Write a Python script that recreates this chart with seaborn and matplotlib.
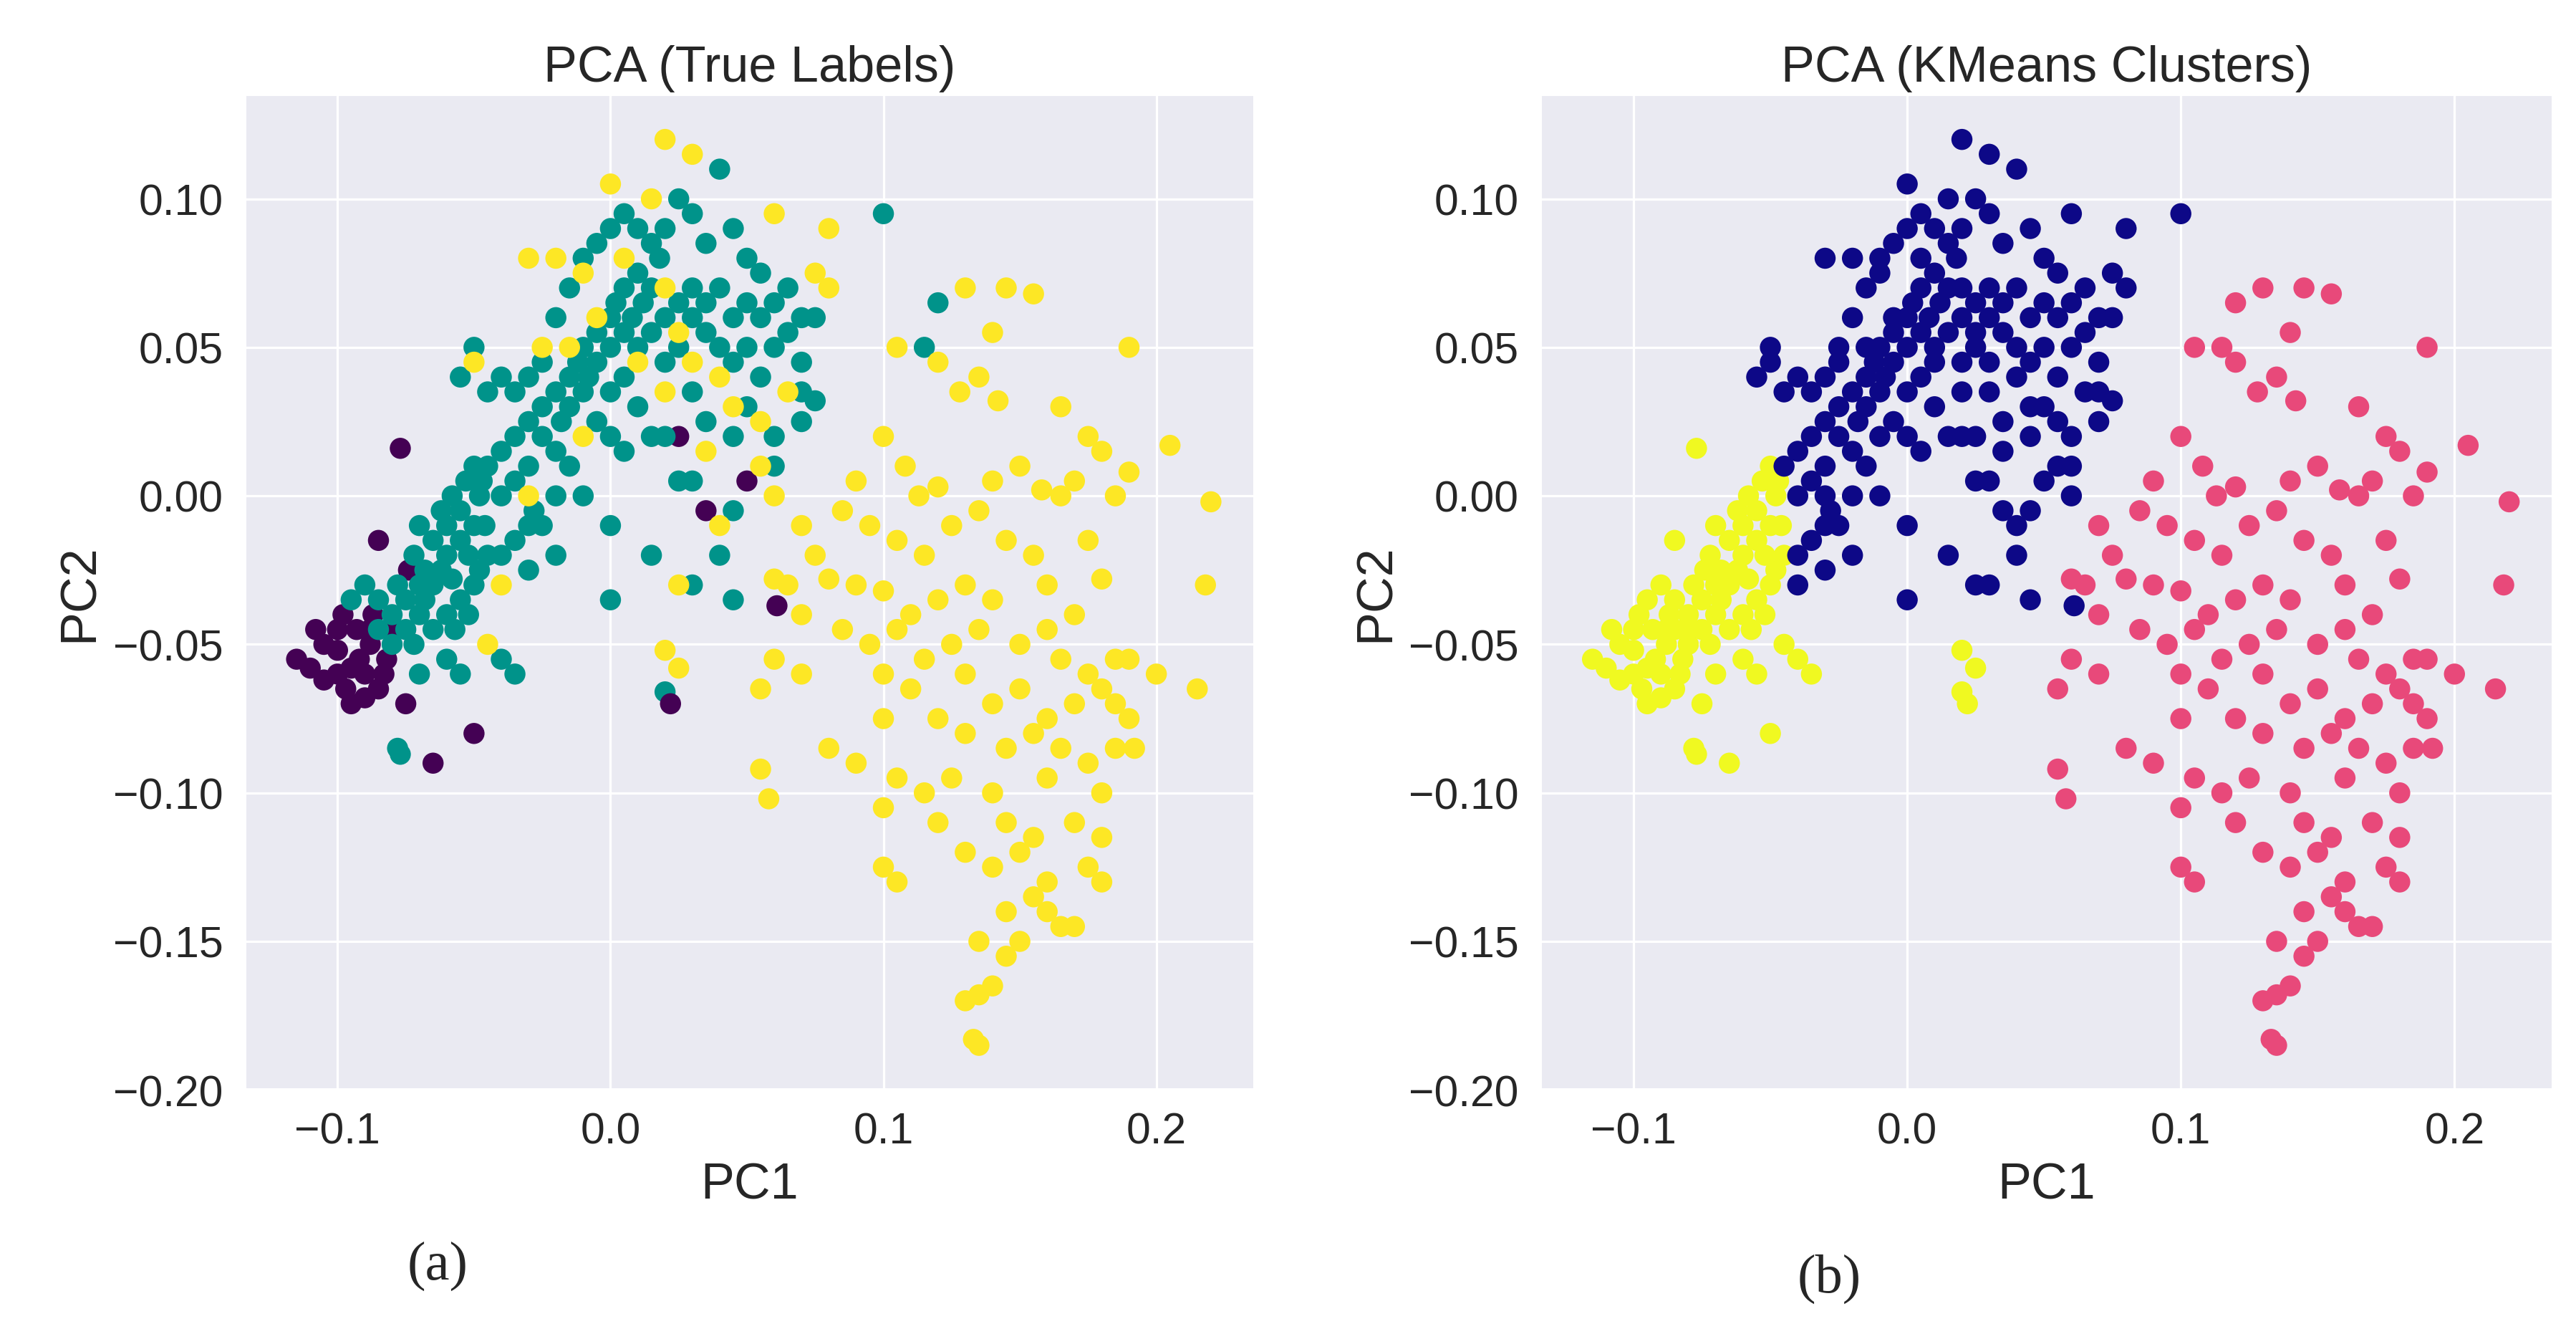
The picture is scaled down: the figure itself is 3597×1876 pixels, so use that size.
import matplotlib
matplotlib.use("Agg")
import matplotlib.pyplot as plt
import seaborn as sns
import pandas as pd

# (pc1, pc2, true_label, kmeans_label)
left_cluster = [
(-0.115,-0.055,0,2),(-0.11,-0.058,0,2),(-0.105,-0.05,0,2),(-0.1,-0.045,0,2),(-0.1,-0.06,0,2),(-0.097,-0.065,0,2),
(-0.095,-0.07,0,2),(-0.092,-0.055,0,2),(-0.09,-0.06,0,2),(-0.088,-0.05,0,2),(-0.105,-0.062,0,2),(-0.098,-0.04,0,2),
(-0.093,-0.045,0,2),(-0.085,-0.065,0,2),(-0.087,-0.04,0,2),(-0.082,-0.055,0,2),(-0.08,-0.045,0,2),(-0.09,-0.068,0,2),
(-0.1,-0.052,0,2),(-0.108,-0.045,0,2),(-0.083,-0.06,0,2),(-0.075,-0.07,0,2),(-0.065,-0.09,0,2),(-0.05,-0.08,0,2),
(-0.085,-0.015,0,2),(-0.074,-0.025,0,2),(-0.077,0.016,0,2),(-0.095,-0.058,0,2),(-0.088,-0.045,0,2),
(-0.095,-0.035,1,2),(-0.09,-0.03,1,2),(-0.085,-0.035,1,2),(-0.08,-0.04,1,2),(-0.078,-0.03,1,2),(-0.075,-0.035,1,2),
(-0.07,-0.03,1,2),(-0.072,-0.02,1,2),(-0.068,-0.025,1,2),(-0.065,-0.03,1,2),(-0.065,-0.015,1,2),(-0.06,-0.02,1,2),
(-0.06,-0.01,1,2),(-0.058,-0.028,1,2),(-0.055,-0.015,1,2),(-0.055,-0.005,1,2),(-0.052,-0.02,1,2),(-0.05,-0.01,1,2),
(-0.048,0.0,1,2),(-0.048,-0.025,1,2),(-0.053,0.005,1,2),(-0.058,0.0,1,2),(-0.062,-0.005,1,2),(-0.07,-0.01,1,2),
(-0.075,-0.045,1,2),(-0.08,-0.05,1,2),(-0.085,-0.045,1,2),(-0.078,-0.085,1,2),(-0.077,-0.087,1,2),(-0.07,-0.06,1,2),
(-0.06,-0.055,1,2),(-0.055,-0.06,1,2),(-0.07,-0.04,1,2),(-0.065,-0.045,1,2),(-0.06,-0.04,1,2),(-0.055,-0.035,1,2),
(-0.05,-0.03,1,2),(-0.045,-0.02,1,2),(-0.046,-0.01,1,2),(-0.047,0.005,1,2),(-0.05,0.01,1,2),(-0.04,-0.055,1,2),
(-0.035,-0.06,1,2),(-0.045,-0.05,2,2),(0.02,-0.052,2,2),(0.025,-0.058,2,2),(0.02,-0.066,1,2),(0.022,-0.07,0,2),
(-0.068,-0.035,1,2),(-0.062,-0.025,1,2),(-0.057,-0.045,1,2),(-0.052,-0.04,1,2),(-0.072,-0.05,1,2),
]

middle_cluster = [
(-0.045,0.01,1,0),(-0.04,0.0,1,0),(-0.04,0.015,1,0),(-0.035,0.005,1,0),(-0.035,0.02,1,0),(-0.03,0.01,1,0),
(-0.03,0.025,1,0),(-0.028,-0.005,1,0),(-0.025,0.02,1,0),(-0.025,0.03,1,0),(-0.02,0.015,1,0),(-0.02,0.035,1,0),
(-0.018,0.025,1,0),(-0.015,0.03,1,0),(-0.015,0.04,1,0),(-0.012,0.045,1,0),(-0.01,0.035,1,0),(-0.01,0.05,1,0),
(-0.008,0.04,1,0),(-0.005,0.045,1,0),(-0.005,0.055,1,0),(0.0,0.05,1,0),(0.0,0.06,1,0),(0.002,0.065,1,0),
(0.005,0.055,1,0),(0.005,0.07,1,0),(0.008,0.06,1,0),(0.01,0.075,1,0),(0.01,0.05,1,0),(0.012,0.065,1,0),
(0.015,0.055,1,0),(0.015,0.07,1,0),(0.018,0.08,1,0),(0.02,0.06,1,0),(0.02,0.045,1,0),(0.025,0.065,1,0),
(0.025,0.05,1,0),(0.03,0.06,1,0),(0.03,0.07,1,0),(0.035,0.055,1,0),(0.035,0.065,1,0),(0.04,0.05,1,0),
(0.04,0.07,1,0),(0.045,0.06,1,0),(0.045,0.045,1,0),(0.05,0.065,1,0),(0.05,0.05,1,0),(0.055,0.06,1,0),
(0.055,0.04,1,0),(0.06,0.065,1,0),(0.06,0.05,1,0),(0.065,0.055,1,0),(0.065,0.07,1,0),(0.07,0.06,1,0),
(0.075,0.06,1,0),(0.07,0.045,1,0),(0.05,0.03,1,0),(0.045,0.02,1,0),(0.035,0.025,1,0),(0.03,0.035,1,0),
(0.025,0.02,0,0),(0.015,0.02,1,0),(0.01,0.03,1,0),(0.005,0.015,1,0),(0.0,0.02,1,0),(-0.005,0.025,1,0),
(0.0,0.035,1,0),(0.005,0.04,1,0),(-0.03,0.04,1,0),(-0.035,0.035,1,0),(-0.04,0.04,1,0),(-0.045,0.035,1,0),
(-0.05,0.05,1,0),(-0.055,0.04,1,0),(-0.025,0.045,1,0),(-0.02,0.06,1,0),(-0.015,0.07,1,0),(-0.01,0.08,1,0),
(-0.005,0.085,1,0),(0.0,0.09,1,0),(0.005,0.095,1,0),(0.01,0.09,1,0),(0.015,0.085,1,0),(0.02,0.09,1,0),
(0.025,0.1,1,0),(0.03,0.095,1,0),(0.04,0.11,1,0),(0.035,0.085,1,0),(0.045,0.09,1,0),(0.05,0.08,1,0),
(0.055,0.075,1,0),(0.1,0.095,1,0),(0.07,0.035,1,0),(0.075,0.032,1,0),(0.07,0.025,1,0),(0.06,0.02,1,0),
(0.06,0.01,1,0),(0.045,-0.005,1,0),(0.0,-0.035,1,0),(0.02,0.02,1,0),(0.025,0.005,1,0),(0.03,0.005,1,0),
(0.035,-0.005,0,0),(0.04,-0.02,1,0),(0.03,-0.03,1,0),(0.045,-0.035,1,0),(0.015,-0.02,1,0),(0.0,-0.01,1,0),
(-0.01,0.0,1,0),(-0.015,0.01,1,0),(-0.02,0.0,1,0),(-0.025,-0.01,1,0),(-0.03,-0.01,1,0),(-0.035,-0.015,1,0),
(-0.04,-0.02,1,0),(-0.03,-0.025,1,0),(-0.02,-0.02,1,0),(0.05,0.005,0,0),(0.061,-0.037,0,0),
(0.02,0.12,2,0),(0.03,0.115,2,0),(0.0,0.105,2,0),(-0.02,0.08,2,0),(0.015,0.1,2,0),(-0.01,0.075,2,0),
(0.005,0.08,2,0),(0.02,0.07,2,0),(0.025,0.055,2,0),(0.03,0.045,2,0),(0.04,0.04,2,0),(0.045,0.03,2,0),
(0.02,0.035,2,0),(0.01,0.045,2,0),(-0.005,0.06,2,0),(-0.01,0.02,2,0),(-0.015,0.05,2,0),(-0.025,0.05,2,0),
(-0.03,0.0,2,0),(0.06,0.095,2,0),(0.08,0.09,2,0),(0.08,0.07,2,0),(0.075,0.075,2,0),(0.065,0.035,2,0),
(0.055,0.025,2,0),(0.06,0.0,2,0),(0.04,-0.01,2,0),(0.035,0.015,2,0),(0.025,-0.03,2,0),(-0.04,-0.03,2,0),
(-0.05,0.045,2,0),(-0.03,0.08,2,0),(0.055,0.01,2,0),
]

right_cluster = [
(0.12,0.065,1,1),(0.115,0.05,1,1),
(0.13,0.07,2,1),(0.145,0.07,2,1),(0.155,0.068,2,1),(0.19,0.05,2,1),(0.105,0.05,2,1),(0.12,0.045,2,1),
(0.14,0.055,2,1),(0.135,0.04,2,1),(0.128,0.035,2,1),(0.142,0.032,2,1),(0.165,0.03,2,1),(0.175,0.02,2,1),
(0.205,0.017,2,1),(0.18,0.015,2,1),(0.22,-0.002,2,1),(0.1,0.02,2,1),(0.108,0.01,2,1),(0.113,0.0,2,1),
(0.12,0.003,2,1),(0.14,0.005,2,1),(0.15,0.01,2,1),(0.158,0.002,2,1),(0.165,0.0,2,1),(0.17,0.005,2,1),
(0.185,0.0,2,1),(0.19,0.008,2,1),(0.09,0.005,2,1),(0.085,-0.005,2,1),(0.095,-0.01,2,1),(0.105,-0.015,2,1),
(0.115,-0.02,2,1),(0.125,-0.01,2,1),(0.135,-0.005,2,1),(0.145,-0.015,2,1),(0.155,-0.02,2,1),(0.175,-0.015,2,1),
(0.07,-0.01,2,1),(0.075,-0.02,2,1),(0.065,-0.03,2,1),(0.08,-0.028,2,1),(0.09,-0.03,2,1),(0.1,-0.032,2,1),
(0.11,-0.04,2,1),(0.12,-0.035,2,1),(0.13,-0.03,2,1),(0.14,-0.035,2,1),(0.16,-0.03,2,1),(0.17,-0.04,2,1),
(0.18,-0.028,2,1),(0.218,-0.03,2,1),(0.06,-0.028,2,1),(0.085,-0.045,2,1),(0.095,-0.05,2,1),
(0.105,-0.045,2,1),(0.115,-0.055,2,1),(0.125,-0.05,2,1),(0.135,-0.045,2,1),(0.15,-0.05,2,1),(0.16,-0.045,2,1),
(0.165,-0.055,2,1),(0.175,-0.06,2,1),(0.185,-0.055,2,1),(0.19,-0.055,2,1),(0.2,-0.06,2,1),(0.215,-0.065,2,1),
(0.06,-0.055,2,1),(0.055,-0.065,2,1),(0.07,-0.06,2,1),(0.1,-0.06,2,1),(0.11,-0.065,2,1),(0.13,-0.06,2,1),
(0.14,-0.07,2,1),(0.15,-0.065,2,1),(0.16,-0.075,2,1),(0.17,-0.07,2,1),(0.18,-0.065,2,1),(0.185,-0.07,2,1),
(0.19,-0.075,2,1),(0.1,-0.075,2,1),(0.12,-0.075,2,1),(0.13,-0.08,2,1),(0.145,-0.085,2,1),(0.155,-0.08,2,1),
(0.165,-0.085,2,1),(0.175,-0.09,2,1),(0.185,-0.085,2,1),(0.192,-0.085,2,1),(0.055,-0.092,2,1),(0.058,-0.102,2,1),
(0.08,-0.085,2,1),(0.09,-0.09,2,1),(0.105,-0.095,2,1),(0.115,-0.1,2,1),(0.125,-0.095,2,1),(0.14,-0.1,2,1),
(0.16,-0.095,2,1),(0.18,-0.1,2,1),(0.1,-0.105,2,1),(0.12,-0.11,2,1),(0.145,-0.11,2,1),(0.155,-0.115,2,1),
(0.17,-0.11,2,1),(0.18,-0.115,2,1),(0.1,-0.125,2,1),(0.105,-0.13,2,1),(0.13,-0.12,2,1),(0.14,-0.125,2,1),
(0.15,-0.12,2,1),(0.16,-0.13,2,1),(0.175,-0.125,2,1),(0.18,-0.13,2,1),(0.145,-0.14,2,1),(0.155,-0.135,2,1),
(0.16,-0.14,2,1),(0.165,-0.145,2,1),(0.17,-0.145,2,1),(0.15,-0.15,2,1),(0.135,-0.15,2,1),(0.145,-0.155,2,1),
(0.13,-0.17,2,1),(0.135,-0.168,2,1),(0.14,-0.165,2,1),(0.133,-0.183,2,1),(0.135,-0.185,2,1),(0.07,-0.04,2,1),
]

rows = left_cluster + middle_cluster + right_cluster
df = pd.DataFrame(rows, columns=["PC1", "PC2", "true", "kmeans"])

true_palette = {0: "#440154", 1: "#00938a", 2: "#fde725"}
km_palette = {0: "#0d0887", 1: "#e8497a", 2: "#f0f921"}

sns.set_theme(style="darkgrid")
plt.rcParams['font.family'] = ['Liberation Sans', 'DejaVu Sans']
fig = plt.figure(figsize=(15.64, 8.16), dpi=230)
ax1 = fig.add_axes([0.095, 0.189, 0.392, 0.740])
ax2 = fig.add_axes([0.598, 0.189, 0.393, 0.740])

for ax, col, pal, title in [(ax1, "true", true_palette, "PCA (True Labels)"),
                            (ax2, "kmeans", km_palette, "PCA (KMeans Clusters)")]:
    sns.scatterplot(data=df, x="PC1", y="PC2", hue=col, palette=pal, s=85,
                    linewidth=0, alpha=1, legend=False, ax=ax)
    ax.set_xlim(-0.134, 0.236)
    ax.set_ylim(-0.2, 0.135)
    ax.set_xticks([-0.1, 0.0, 0.1, 0.2])
    ax.set_yticks([0.10, 0.05, 0.0, -0.05, -0.10, -0.15, -0.20])
    ax.set_yticklabels(["0.10", "0.05", "0.00", "\u22120.05", "\u22120.10", "\u22120.15", "\u22120.20"])
    ax.set_xticklabels(["\u22120.1", "0.0", "0.1", "0.2"])
    ax.tick_params(labelsize=19)
    ax.set_xlabel("PC1", fontsize=22)
    ax.set_ylabel("PC2", fontsize=22)
    ax.set_title(title, fontsize=22)

fig.text(0.170, 0.04, "(a)", fontsize=24, family="Liberation Serif", ha="center", va="bottom")
fig.text(0.710, 0.03, "(b)", fontsize=24, family="Liberation Serif", ha="center", va="bottom")
fig.savefig("out.png", dpi=230)
